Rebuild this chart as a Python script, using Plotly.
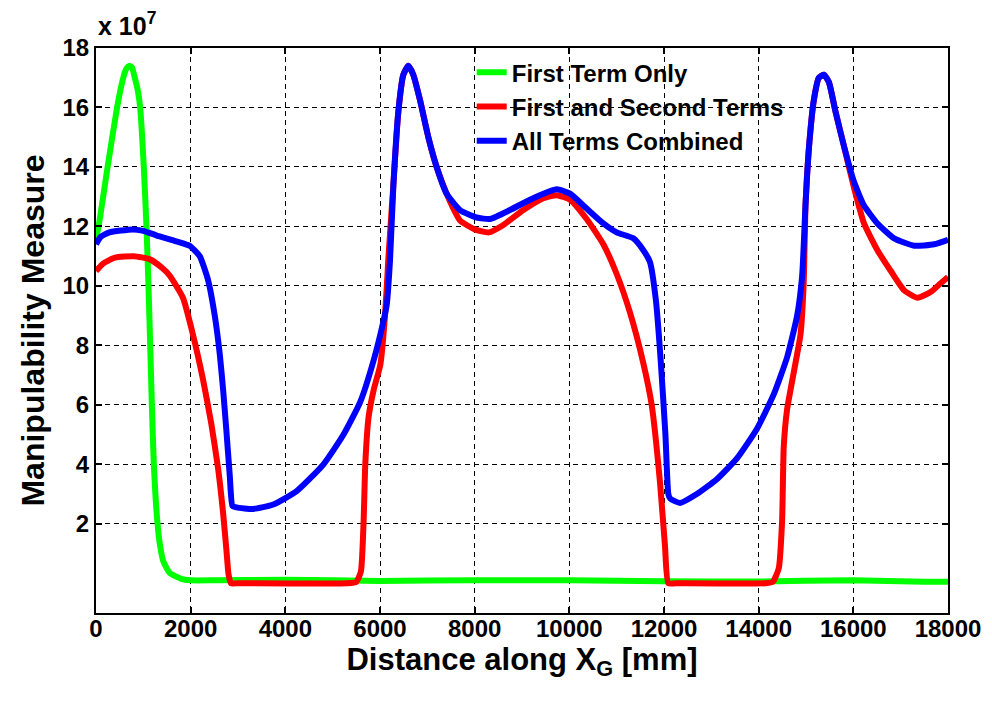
import plotly.graph_objects as go

# Values in units of 1e7
green_x = [0, 55, 245, 445, 560, 640, 700, 760, 820, 880, 933, 1010, 1066, 1109, 1145, 1180, 1222, 1300,
           1350, 1420, 1555, 1800, 2000, 2500, 4000, 6000, 8000, 10000, 12000, 14000, 16000, 17500, 18000]
green_y = [11.6, 12.0, 14.0, 16.0, 16.9, 17.3, 17.4, 17.35, 17.0, 16.6, 16.0, 14.0, 12.0, 10.0, 8.0, 6.0, 4.0, 2.0,
           1.3, 0.75, 0.35, 0.15, 0.1, 0.1, 0.12, 0.08, 0.1, 0.1, 0.07, 0.06, 0.1, 0.05, 0.05]

red_x = [0, 150, 400, 800, 1130, 1400, 1555, 1837, 2050, 2261, 2438, 2580, 2686, 2756, 2800, 2850, 3000,
         5300, 5500, 5597, 5654, 5689, 5760, 5866, 6007, 6106, 6176, 6282, 6387, 6493, 6599, 6704, 6845,
         7021, 7197, 7408, 7550, 7690, 8000, 8300, 8606, 9028, 9451, 9732, 10014, 10366, 10718,
         11000, 11282, 11563, 11740, 11915, 12021, 12092, 12250, 14150, 14300, 14424, 14495, 14530, 14601, 14742,
         14883, 14954, 14989, 15060, 15166, 15272, 15378, 15484, 15625, 15802, 16014, 16226, 16509,
         16792, 17074, 17357, 17640, 17852, 18000]
red_y = [10.5, 10.75, 10.95, 11.0, 10.9, 10.6, 10.35, 9.6, 8.35, 6.85, 5.35, 3.85, 2.35, 1.1, 0.3, 0.0, 0.0,
         0.0, 0.05, 0.4, 2.1, 4.0, 5.6, 6.5, 7.35, 9.0, 10.9, 13.4, 15.85, 17.1, 17.4, 17.1, 16.25,
         15.0, 14.0, 13.1, 12.6, 12.2, 11.9, 11.8, 12.05, 12.55, 12.95, 13.05, 12.9, 12.25, 11.4,
         10.4, 9.1, 7.4, 6.0, 3.4, 1.25, 0.0, 0.0, 0.0, 0.05, 0.5, 2.1, 4.6, 5.85, 7.1,
         8.35, 10.2, 12.7, 14.6, 16.25, 17.0, 17.1, 16.85, 15.85, 14.7, 13.3, 12.1, 11.2,
         10.5, 9.85, 9.6, 9.8, 10.1, 10.3]

blue_x = [0, 100, 283, 777, 1000, 1272, 1696, 1979, 2191, 2367, 2509, 2615, 2686, 2756, 2827, 2883,
          2968, 3322, 3746, 4240, 4806, 5230, 5583, 5866, 6078, 6141, 6211, 6282, 6387, 6493, 6599,
          6704, 6845, 7021, 7197, 7408, 7690, 8042, 8324, 8746, 9169, 9732, 10014, 10366, 10718,
          11000, 11352, 11563, 11704, 11830, 11930, 12030, 12092, 12130, 12339, 12693, 13117, 13541,
          13965, 14318, 14601, 14813, 14919, 14989, 15060, 15166, 15272, 15378, 15484, 15625, 15802,
          16014, 16226, 16509, 16862, 17286, 17710, 18000]
blue_y = [11.4, 11.65, 11.8, 11.9, 11.85, 11.7, 11.5, 11.35, 11.0, 10.2, 9.0, 7.7, 6.5, 5.1, 3.6, 2.6,
          2.55, 2.5, 2.65, 3.1, 4.0, 5.0, 6.1, 7.5, 8.85, 9.35, 10.85, 13.35, 15.85, 17.1, 17.4,
          17.1, 16.25, 15.0, 14.0, 13.1, 12.55, 12.3, 12.25, 12.55, 12.9, 13.25, 13.1, 12.6, 12.1,
          11.8, 11.6, 11.2, 10.8, 9.5, 7.5, 5.0, 3.0, 2.85, 2.7, 3.0, 3.5, 4.2,
          5.2, 6.35, 7.6, 9.0, 10.35, 12.7, 14.6, 16.25, 17.0, 17.1, 16.85, 15.85, 14.7,
          13.5, 12.7, 12.1, 11.6, 11.35, 11.4, 11.55]

series_names = ["First Term Only", "First and Second Terms", "All Terms Combined"]
x_ticks = [0, 2000, 4000, 6000, 8000, 10000, 12000, 14000, 16000, 18000]
y_ticks = [2, 4, 6, 8, 10, 12, 14, 16, 18]

FONT = "Liberation Sans, Arial, sans-serif"

fig = go.Figure()
for name, xs, ys, col in [
    (series_names[0], green_x, green_y, "#00FF00"),
    (series_names[1], red_x, red_y, "#FF0000"),
    (series_names[2], blue_x, blue_y, "#0000FF"),
]:
    fig.add_trace(go.Scatter(x=xs, y=ys, mode="lines", name=name,
                             line=dict(color=col, width=6, shape="spline", smoothing=0.5)))

axis_common = dict(
    showline=True, linecolor="black", linewidth=2, mirror="ticks",
    ticks="inside", ticklen=6, tickwidth=1.5, tickcolor="black",
    showgrid=True, gridcolor="black", gridwidth=1, griddash="5px,4px",
    zeroline=False,
    tickfont=dict(family=FONT, size=24, color="black", weight="bold"),
)

fig.update_xaxes(range=[0, 18000], tickvals=x_ticks, ticktext=[str(v) for v in x_ticks],
                 ticklabelstandoff=-7,
                 title=dict(text="Distance along X<sub>G</sub> [mm]",
                            font=dict(family=FONT, size=31, color="black", weight="bold"),
                            standoff=4),
                 **axis_common)
fig.update_yaxes(range=[-1, 18], tickvals=y_ticks, ticktext=[str(v) for v in y_ticks],
                 title=dict(text="Manipulability Measure",
                            font=dict(family=FONT, size=32, color="black", weight="bold"),
                            standoff=8),
                 **axis_common)

fig.add_annotation(xref="paper", yref="paper", x=0, y=1, xanchor="left", yanchor="bottom",
                   yshift=6, text="x 10<sup>7</sup>", showarrow=False,
                   font=dict(family=FONT, size=25, color="black", weight="bold"))

# The page body has an 8px default margin, so the figure is sized and placed to compensate.
fig.update_layout(
    width=984, height=694,
    margin=dict(l=88, r=44, t=40, b=89, autoexpand=False),
    paper_bgcolor="white", plot_bgcolor="white",
    showlegend=True,
    legend=dict(x=0.441, y=0.996, xanchor="left", yanchor="top",
                bgcolor="rgba(0,0,0,0)", borderwidth=0, tracegroupgap=0,
                font=dict(family=FONT, size=24, color="black", weight="bold")),
)

fig.write_html("out.html")
